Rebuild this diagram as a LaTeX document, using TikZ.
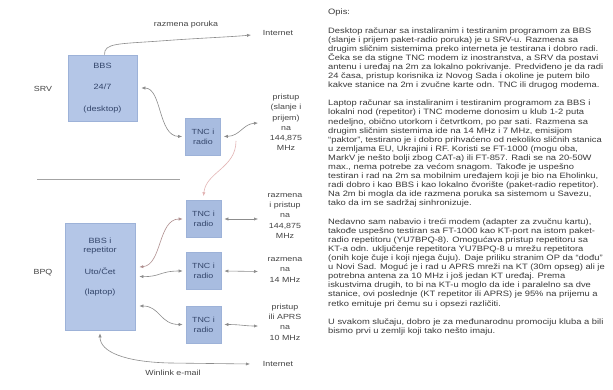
\documentclass[tikz,border=0pt]{standalone}
\usepackage{fontspec}
\setmainfont{Liberation Sans}
\newfontfamily\wfont[FakeStretch=1.2]{Liberation Sans}
\usetikzlibrary{arrows.meta}
\definecolor{boxfill}{HTML}{B4C6E7}
\definecolor{tncfill}{HTML}{A8BCE0}
\definecolor{boxedge}{HTML}{9DB2D8}
\definecolor{boxtext}{HTML}{34466B}
\definecolor{lbltext}{HTML}{444444}
\definecolor{conncol}{HTML}{8C8C8C}
\definecolor{pinkcol}{HTML}{E3B5B5}
\definecolor{redgray}{HTML}{B09090}
\definecolor{bodytext}{HTML}{3A3A3A}
\begin{document}
\begin{tikzpicture}[x=1pt,y=-1pt,
  box/.style={draw=boxedge, fill=boxfill, inner sep=0pt, line width=0.6pt},
  tncbox/.style={draw=boxedge, fill=tncfill, line width=0.6pt, minimum width=35pt, minimum height=37pt, inner sep=0pt, align=center, font=\wfont\fontsize{7.4}{10}\selectfont, text=boxtext},
  lbl/.style={font=\wfont\fontsize{7.4}{10.3}\selectfont, text=lbltext, align=center, inner sep=0pt},
  boxtxt/.style={font=\wfont\fontsize{7.6}{9}\selectfont, text=boxtext, align=center, inner sep=0pt},
  body/.style={font=\wfont\fontsize{7.8}{9.1}\selectfont, text=bodytext, align=left, inner sep=0pt},
  cline/.style={draw=conncol, line width=0.6pt},
  arr/.style={cline, -{Latex[length=4pt,width=3.2pt]}},
  darr/.style={cline, {Latex[length=4pt,width=3.2pt]}-{Latex[length=4pt,width=3.2pt]}},
  sepline/.style={draw=conncol!80, line width=0.7pt},
]
\fill[white] (0,0) rectangle (613,390);
\useasboundingbox (0,0) rectangle (613,390);

% SRV part
\node[lbl] (srv) at (43,89) {SRV};
\node[box, minimum width=69pt, minimum height=66pt] (bbs) at (102.5,88) {};
\node[boxtxt, font=\wfont\fontsize{7.6}{21.5}\selectfont] (bbst) at (bbs.center) {BBS\\24/7\\(desktop)};
\node[tncbox] (tnc0) at (203,136.5) {TNC i\\radio};
\node[lbl] (razp) at (186,25) {razmena poruka};
\node[lbl] (inet1) at (278,33) {Internet};
\node[lbl] (pristup) at (286,122.5) {pristup\\(slanje i\\prijem)\\na\\144,875\\MHz};

\draw[sepline] (37,179) -- (180,179);

% BPQ part
\node[lbl] (bpql) at (43,273) {BPQ};
\node[box, minimum width=70pt, minimum height=107pt] (bpq) at (100,276.5) {};
\node[boxtxt] (bpqt) at (100,267.5) {BBS i\\repetitor\\[13pt]Uto/Čet\\[11pt](laptop)};
\node[tncbox] (tnc1) at (203.5,219) {TNC i\\radio};
\node[tncbox] (tnc2) at (203.5,271) {TNC i\\radio};
\node[tncbox] (tnc3) at (203.5,324.5) {TNC i\\radio};
\node[lbl] (l1) at (285,216) {razmena\\i pristup\\na\\144,875\\MHz};
\node[lbl] (l2) at (285,270) {razmena\\na\\14 MHz};
\node[lbl] (l3) at (285,322) {pristup\\ili APRS\\na\\10 MHz};
\node[lbl] (inet2) at (278,364) {Internet};
\node[lbl] (winl) at (173,373) {Winlink e-mail};

% free ends
\coordinate (i1) at (251,35);
\coordinate (e0) at (258,123);
\coordinate (pk) at (236,141);
\coordinate (e1) at (258,219);
\coordinate (e2) at (258,271.5);
\coordinate (e3) at (258,326);
\coordinate (i2) at (250,364);

% connectors
\draw[arr] ([xshift=2pt]bbs.north) .. controls (104,43) and (118,44) .. (160,41) .. controls (200,38) and (230,37) .. (i1);
\draw[darr] ([xshift=4pt]bbs.east) .. controls (162,88) and (158,136) .. ([xshift=-3pt]tnc0.west);
\draw[darr] ([xshift=3pt]tnc0.east) .. controls (240,136) and (243,124) .. (e0);
\draw[arr, draw=pinkcol] (pk) .. controls (236,168) and (206,172) .. ([yshift=4pt]tnc1.north);
\draw[darr, draw=redgray] ([xshift=4pt,yshift=9.5pt]bpq.east) .. controls (162,265) and (158,219) .. ([xshift=-3pt]tnc1.west);
\draw[darr] ([xshift=4pt]bpq.east) .. controls (160,277) and (160,271) .. ([xshift=-3pt]tnc2.west);
\draw[darr] ([xshift=4pt,yshift=-29.5pt]bpq.east) .. controls (160,306) and (160,324.5) .. ([xshift=-3pt]tnc3.west);
\draw[darr] ([xshift=3pt]tnc1.east) -- (e1);
\draw[darr] ([xshift=3pt]tnc2.east) -- (e2);
\draw[darr] ([xshift=3pt]tnc3.east) .. controls (240,324.5) and (245,326) .. (e3);
\draw[darr] ([yshift=-3pt]bpq.south) .. controls (100,352) and (125,362) .. (170,363) -- (i2);

% description
\node[body, anchor=north west] (desc) at (328,9) {Opis:\\[9.1pt]
Desktop računar sa instaliranim i testiranim programom za BBS\\
(slanje i prijem paket-radio poruka) je u SRV-u. Razmena sa\\
drugim sličnim sistemima preko interneta je testirana i dobro radi.\\
Čeka se da stigne TNC modem iz inostranstva, a SRV da postavi\\
antenu i uređaj na 2m za lokalno pokrivanje. Predviđeno je da radi\\
24 časa, pristup korisnika iz Novog Sada i okoline je putem bilo\\
kakve stanice na 2m i zvučne karte odn. TNC ili drugog modema.\\[9.1pt]
Laptop računar sa instaliranim i testiranim programom za BBS i\\
lokalni nod (repetitor) i TNC modeme donosim u klub 1-2 puta\\
nedeljno, obično utorkom i četvrtkom, po par sati. Razmena sa\\
drugim sličnim sistemima ide na 14 MHz i 7 MHz, emisijom\\
“paktor”, testirano je i dobro prihvaćeno od nekoliko sličnih stanica\\
u zemljama EU, Ukrajini i RF. Koristi se FT-1000 (mogu oba,\\
MarkV je nešto bolji zbog CAT-a) ili FT-857. Radi se na 20-50W\\
max., nema potrebe za većom snagom. Takođe je uspešno\\
testiran i rad na 2m sa mobilnim uređajem koji je bio na Eholinku,\\
radi dobro i kao BBS i kao lokalno čvorište (paket-radio repetitor).\\
Na 2m bi mogla da ide razmena poruka sa sistemom u Savezu,\\
tako da im se sadržaj sinhronizuje.\\[9.1pt]
Nedavno sam nabavio i treći modem (adapter za zvučnu kartu),\\
takođe uspešno testiran sa FT-1000 kao KT-port na istom paket-\\
radio repetitoru (YU7BPQ-8). Omogućava pristup repetitoru sa\\
KT-a odn. uključenje repetitora YU7BPQ-8 u mrežu repetitora\\
(onih koje čuje i koji njega čuju). Daje priliku stranim OP da “dođu”\\
u Novi Sad. Moguć je i rad u APRS mreži na KT (30m opseg) ali je\\
potrebna antena za 10 MHz i još jedan KT uređaj. Prema\\
iskustvima drugih, to bi na KT-u moglo da ide i paralelno sa dve\\
stanice, ovi poslednje (KT repetitor ili APRS) je 95\% na prijemu a\\
retko emituje pri čemu su i opsezi različiti.\\[9.1pt]
U svakom slučaju, dobro je za međunarodnu promociju kluba a bili\\
bismo prvi u zemlji koji tako nešto imaju.};
\end{tikzpicture}
\end{document}
